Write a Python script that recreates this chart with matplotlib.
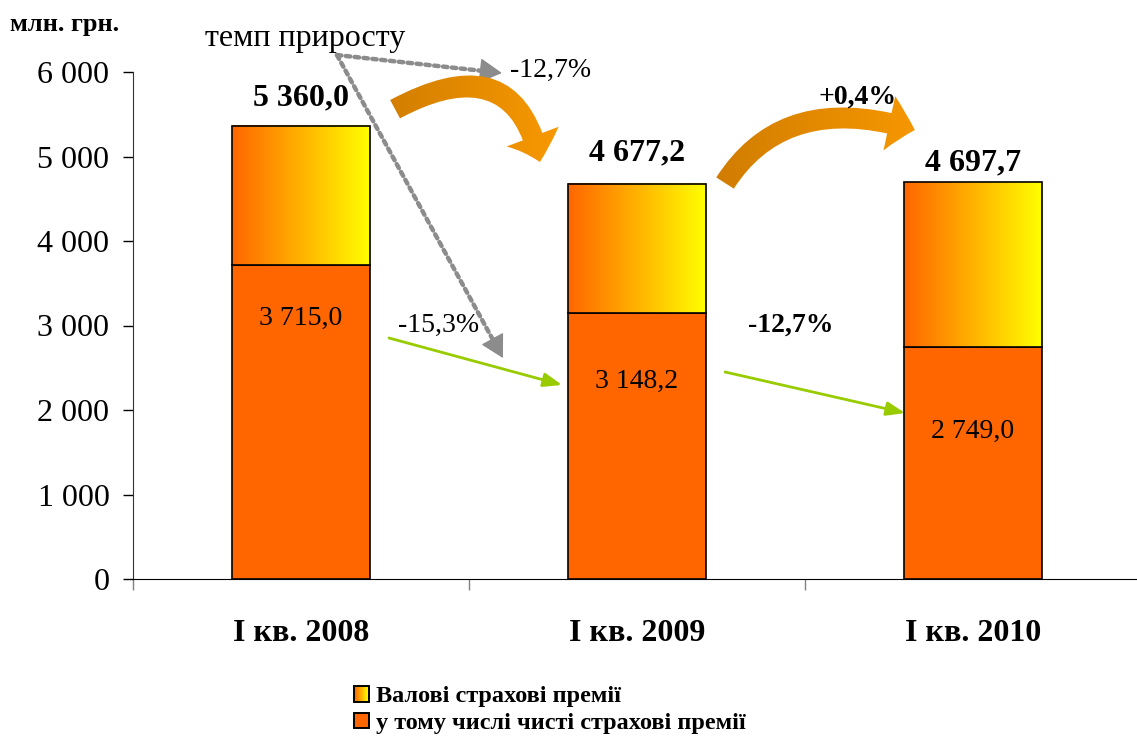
import numpy as np
import matplotlib
matplotlib.use("Agg")
import matplotlib.pyplot as plt
from matplotlib.colors import LinearSegmentedColormap
from matplotlib.patches import Rectangle, Patch, FancyArrowPatch
from matplotlib.path import Path
from matplotlib.legend_handler import HandlerBase
from matplotlib.ticker import FuncFormatter, FixedLocator

plt.rcParams['font.family'] = ['Liberation Serif', 'DejaVu Serif']

# data
categories = ['I кв. 2008', 'I кв. 2009', 'I кв. 2010']
gross = [5360.0, 4677.2, 4697.7]        # Валові страхові премії
net = [3715.0, 3148.2, 2749.0]          # у тому числі чисті страхові премії
gross_growth = ['-12,7%', '+0,4%']
net_growth = ['-15,3%', '-12,7%']
series_names = ['Валові страхові премії', 'у тому числі чисті страхові премії']

ORANGE = '#FF6600'
grad_cmap = LinearSegmentedColormap.from_list('gy', ['#FF6600', '#FFFF00'])
arrow_cmap = LinearSegmentedColormap.from_list('ar', ['#C97700', '#FF9E00'])
hgrad = np.linspace(0, 1, 256).reshape(1, -1)


def fmt(v):
    return f"{v:,.1f}".replace(",", " ").replace(".", ",")


class GradientHandler(HandlerBase):
    def create_artists(self, legend, orig_handle, xdescent, ydescent,
                       width, height, fontsize, trans):
        n = 24
        arts = []
        for i in range(n):
            arts.append(Rectangle((-xdescent + i * width / n, -ydescent), width / n + 0.3, height,
                                  facecolor=grad_cmap(i / (n - 1)), edgecolor='none', transform=trans))
        arts.append(Rectangle((-xdescent, -ydescent), width, height, facecolor='none',
                              edgecolor='black', lw=1.4, transform=trans))
        return arts


fig = plt.figure(figsize=(11.37, 7.36), dpi=100)
ax = fig.add_axes([133 / 1137, 157 / 736, (1141 - 133) / 1137, (579 - 72) / 736])

x = np.arange(len(categories))
width = 0.41
top = np.array(gross) - np.array(net)

ax.bar(x, net, width, color=ORANGE, edgecolor='black', linewidth=1.2, zorder=3)
tops = ax.bar(x, top, width, bottom=net, facecolor='none', edgecolor='black', linewidth=1.2, zorder=4)
for b in tops:
    x0, y0 = b.get_x(), b.get_y()
    ax.imshow(hgrad, extent=[x0, x0 + b.get_width(), y0, y0 + b.get_height()],
              cmap=grad_cmap, aspect='auto', zorder=3, interpolation='bilinear')

# value labels
total_y = [5609, 4959, 4840]
for i, v in enumerate(gross):
    ax.text(x[i], total_y[i], fmt(v), ha='center', va='baseline', fontsize=23, fontweight='bold', zorder=7)
net_y = [3006, 2260, 1669]
for i, v in enumerate(net):
    ax.text(x[i], net_y[i], fmt(v), ha='center', va='baseline', fontsize=20, zorder=7)

# axes styling
ax.set_yticks(np.arange(0, 6001, 1000))
ax.yaxis.set_major_formatter(FuncFormatter(lambda v, p: f"{int(v):,}".replace(",", " ")))
ax.tick_params(axis='y', direction='out', length=7, width=1, pad=10, labelsize=23)
ax.set_xticks(x)
ax.set_xticklabels(categories, fontsize=23, fontweight='bold')
ax.tick_params(axis='x', which='major', length=0, pad=29)
ax.xaxis.set_minor_locator(FixedLocator([-0.5, 0.5, 1.5, 2.5]))
ax.tick_params(axis='x', which='minor', direction='out', length=8, width=1, color='#808080')
for s in ['top', 'right']:
    ax.spines[s].set_visible(False)
ax.spines['left'].set_color('#333333')
ax.spines['bottom'].set_color('black')

# gray dotted arrows from "темп приросту"
start = np.array([0.107, 6201])
for end in [np.array([0.598, 5988]), np.array([0.601, 2615])]:
    ax.annotate('', xy=end, xytext=start, annotation_clip=False,
                arrowprops=dict(arrowstyle='-', linestyle=(0, (1, 1)), lw=3.2,
                                color='#8C8C8C', shrinkA=0, shrinkB=10))
    ax.annotate('', xy=end, xytext=start + (end - start) * 0.97, annotation_clip=False,
                arrowprops=dict(arrowstyle='-|>,head_length=0.9,head_width=0.5', lw=1,
                                color='#8C8C8C', shrinkA=0, shrinkB=0, mutation_scale=16))
ax.text(-0.286, 6402, 'темп приросту', ha='left', va='center', fontsize=23)
ax.text(0.622, 6024, gross_growth[0], ha='left', va='center', fontsize=20)

# green arrows for net premiums
for (s, e) in [((0.262, 2852), (0.777, 2296)), ((1.262, 2450), (1.798, 1964))]:
    ax.annotate('', xy=e, xytext=s,
                arrowprops=dict(arrowstyle='-|>,head_length=0.8,head_width=0.3', lw=2,
                                color='#99CC00', shrinkA=0, shrinkB=0, mutation_scale=14))
ax.text(0.289, 3006, net_growth[0], ha='left', va='center', fontsize=20)
ax.text(1.330, 3006, net_growth[1], ha='left', va='center', fontsize=20, fontweight='bold')
ax.text(1.539, 5704, gross_growth[1], ha='left', va='center', fontsize=20, fontweight='bold', zorder=8)

# orange curved arrows with gradient
curves = [[(0.280, 5560), (0.637, 6320), (0.711, 4935)],
          [(1.262, 4686), (1.440, 5787), (1.827, 5314)]]
for pts in curves:
    path = Path(pts, [Path.MOVETO, Path.CURVE3, Path.CURVE3])
    arr = FancyArrowPatch(path=path, arrowstyle='simple,head_length=19,head_width=40,tail_width=15',
                          mutation_scale=1, facecolor='none', edgecolor='none', zorder=5)
    ax.add_patch(arr)
    xs = [p[0] for p in pts]
    ext = [min(xs) - 0.15, max(xs) + 0.15, 4300, 6600]
    im = ax.imshow(hgrad, extent=ext, cmap=arrow_cmap, aspect='auto', zorder=5.5)
    im.set_clip_path(arr)
    im.set_clip_box(None)

ax.set_xlim(-0.5, 2.5)
ax.set_ylim(0, 6000)

fig.text(10 / 1137, 1 - 25 / 736, 'млн. грн.', ha='left', va='center', fontsize=19, fontweight='bold')

# legend
grad_handle = Patch()
net_handle = Patch(facecolor=ORANGE, edgecolor='black', lw=1.4)
fig.legend([grad_handle, net_handle], series_names, loc='upper left',
           bbox_to_anchor=(342 / 1137, 1 - 674 / 736), frameon=False,
           prop={'weight': 'bold', 'size': 17.5}, handlelength=0.6, handleheight=0.6,
           handletextpad=0.3, labelspacing=0.22, borderpad=0,
           handler_map={grad_handle: GradientHandler()})

fig.savefig('out.png', dpi=100)
